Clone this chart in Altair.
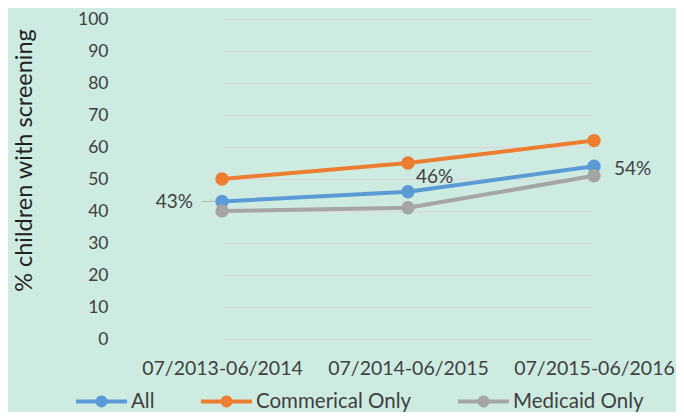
import altair as alt
import pandas as pd

periods = ["07/2013-06/2014", "07/2014-06/2015", "07/2015-06/2016"]
series_names = ["All", "Commerical Only", "Medicaid Only"]
all_vals = [43, 46, 54]
comm_vals = [50, 55, 62]
med_vals = [40, 41, 51]
label_texts = ["43%", "46%", "54%"]
colors = ["#5b9bd5", "#ed7d31", "#a5a5a5"]
y_ticks = list(range(0, 101, 10))

rows = []
for name, vals in zip(series_names, [all_vals, comm_vals, med_vals]):
    for p, v in zip(periods, vals):
        rows.append({"period": p, "series": name, "value": v})
df = pd.DataFrame(rows)
lab_df = pd.DataFrame({"period": periods, "value": all_vals, "label": label_texts})

FONT = "Lato"
TXT = "#404040"

legend_path = ("M-1,-0.08 L-0.221,-0.08 A0.235,0.235 0 0,1 0.221,-0.08 L1,-0.08 "
               "L1,0.08 L0.221,0.08 A0.235,0.235 0 0,1 -0.221,0.08 L-1,0.08 Z")

x_scale = alt.Scale(type="point", domain=periods, range=[94, 466], padding=0)
x_enc = alt.X("period:N", sort=periods, scale=x_scale,
              axis=alt.Axis(title=None, labelAngle=0, labelFontSize=19.5, labelColor=TXT,
                            labelFont=FONT, labelPadding=20, ticks=False, domain=False,
                            grid=False))
y_enc = alt.Y("value:Q", scale=alt.Scale(domain=[0, 100], nice=False),
              axis=alt.Axis(values=y_ticks, title="% children with screening",
                            titleFontSize=23.5, titleFont=FONT, titleColor="#222222",
                            titleFontWeight="normal", titleX=-104, titleY=141,
                            titleAlign="center", titleBaseline="middle", titleAngle=270,
                            labelFontSize=17.5, labelColor=TXT, labelFont=FONT,
                            labelPadding=20, labelOverlap=False, ticks=False, domain=False,
                            grid=True, gridColor="#e2d4dc", gridWidth=1))

lines = alt.Chart(df).mark_line(
    strokeWidth=4,
    point=alt.OverlayMarkDef(size=180, filled=True, opacity=1),
).encode(
    x=x_enc,
    y=y_enc,
    color=alt.Color("series:N", sort=series_names,
                    scale=alt.Scale(domain=series_names, range=colors),
                    legend=alt.Legend(title=None, orient="none", direction="horizontal",
                                      legendX=-52, legendY=357,
                                      symbolType=legend_path, symbolSize=2600,
                                      symbolStrokeWidth=0, symbolOpacity=1,
                                      labelFontSize=20.5, labelFont=FONT, labelColor=TXT,
                                      labelOffset=4, columnPadding=46)),
    order=alt.Order("period:N"),
)

base_lab = alt.Chart(lab_df)
leader = base_lab.transform_filter(alt.datum.label == "43%").mark_tick(
    orient="horizontal", size=14, thickness=1, color="#a0a0a0", xOffset=-13
).encode(x=x_enc, y=y_enc)

lab1 = base_lab.transform_filter(alt.datum.label == "43%").mark_text(
    align="right", baseline="middle", dx=-29, dy=1, fontSize=19, font=FONT, color=TXT
).encode(x=x_enc, y=y_enc, text="label:N")
lab2 = base_lab.transform_filter(alt.datum.label == "46%").mark_text(
    align="left", baseline="middle", dx=8, dy=-15, fontSize=19, font=FONT, color=TXT
).encode(x=x_enc, y=y_enc, text="label:N")
lab3 = base_lab.transform_filter(alt.datum.label == "54%").mark_text(
    align="left", baseline="middle", dx=20, dy=3, fontSize=19, font=FONT, color=TXT
).encode(x=x_enc, y=y_enc, text="label:N")

chart = alt.layer(lines, leader, lab1, lab2, lab3).properties(
    width=548, height=320,
    background="#ceebe2",
    autosize=alt.AutoSizeParams(type="none"),
    padding={"left": 120, "top": 11, "right": 0, "bottom": 73},
).configure_view(stroke=None)

chart.save("out.html", embed_options={"renderer": "svg", "actions": False})
